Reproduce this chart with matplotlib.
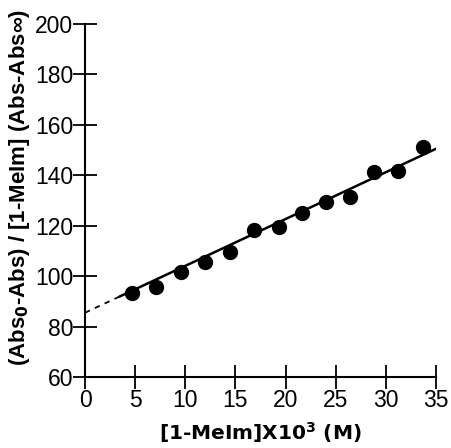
import numpy as np
import matplotlib
matplotlib.use('Agg')
import matplotlib.pyplot as plt

plt.rcParams['font.family'] = ['Liberation Sans', 'DejaVu Sans']

# 数据点
conc = [4.7, 7.1, 9.6, 12.0, 14.5, 16.9, 19.3, 21.6, 24.0, 26.4, 28.8, 31.2, 33.7]
ratio = [93.2, 95.6, 101.5, 105.7, 109.7, 118.3, 119.6, 125.2, 129.3, 131.3, 141.4, 141.8, 151.1]

# 拟合直线（外推部分为虚线）
fit_dash_x = [0, 3.5]
fit_dash_y = [85.5, 92.0]
fit_solid_x = [3.5, 35.1]
fit_solid_y = [92.0, 150.7]

x_ticks = [0, 5, 10, 15, 20, 25, 30, 35]
y_ticks = [60, 80, 100, 120, 140, 160, 180, 200]

fig = plt.figure(figsize=(4.51, 4.48), dpi=100)
ax = fig.add_axes([85 / 451, (448 - 377) / 448, (436 - 85) / 451, (377 - 24) / 448])

ax.plot(fit_dash_x, fit_dash_y, color='black', lw=1.3, ls=(0, (3, 3)))
ax.plot(fit_solid_x, fit_solid_y, color='black', lw=1.8)
ax.plot(conc, ratio, 'o', color='black', ms=10, clip_on=False)

ax.set_xlim(0, 35)
ax.set_ylim(60, 200)
ax.set_xticks(x_ticks)
ax.set_yticks(y_ticks)

for s in ['top', 'right']:
    ax.spines[s].set_visible(False)
for s in ['left', 'bottom']:
    ax.spines[s].set_linewidth(1.5)

ax.tick_params(axis='both', direction='inout', length=17, width=1.3, labelsize=16.5, pad=0)

ax.set_xlabel('[1-MeIm]X10$^\\mathbf{3}$ (M)', family=['DejaVu Sans'],
              fontsize=14.5, fontweight='bold', va='bottom')
ax.xaxis.set_label_coords(0.5, -0.194)
ax.set_ylabel('(Abs$_\\mathbf{0}$-Abs) / [1-MeIm] (Abs-Abs\u221e)',
              fontsize=16, fontweight='bold')
ax.yaxis.set_label_coords(-0.152, 0.538)

fig.savefig('out.png', dpi=100)
